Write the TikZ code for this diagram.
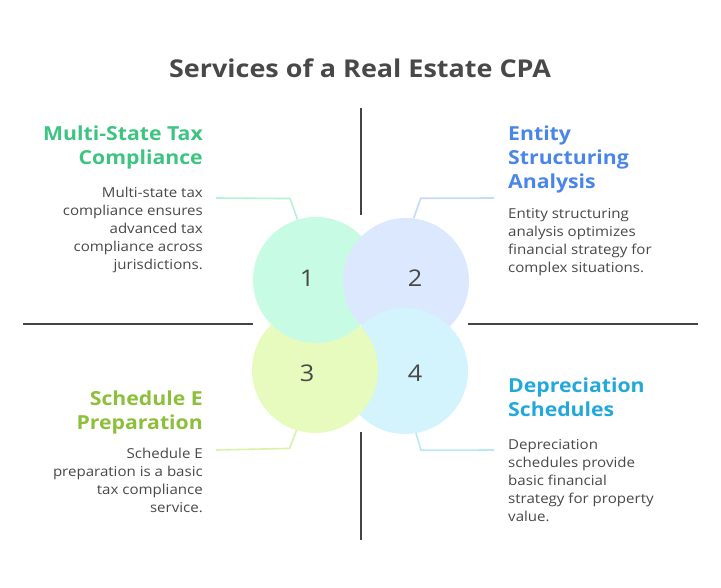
\documentclass[tikz,border=0pt]{standalone}
\usepackage{fontspec}
\setmainfont[FakeStretch=1.1]{Open Sans}
\usepackage{xcolor}
\usetikzlibrary{positioning, calc}

\definecolor{inkgray}{HTML}{484848}
\definecolor{mintfill}{HTML}{C8FBE3}
\definecolor{bluefill}{HTML}{DCE8FD}
\definecolor{limefill}{HTML}{E6FBBD}
\definecolor{cyanfill}{HTML}{D3F3FD}
\definecolor{mintink}{HTML}{3CC480}
\definecolor{blueink}{HTML}{4A86E8}
\definecolor{limeink}{HTML}{8CBF3A}
\definecolor{cyanink}{HTML}{22A8DB}

\begin{document}
\begin{tikzpicture}[
    x=1pt, y=-1pt,
    every node/.style={inner sep=0pt, text=inkgray},
    bubble/.style={circle, minimum size=126pt},
    num/.style={font=\fontsize{23}{28}\selectfont},
    head/.style={font=\fontsize{19.3}{24}\selectfont\bfseries},
    body/.style={font=\fontsize{13.7}{18}\selectfont},
    lead/.style={line width=1.6pt},
    divider/.style={line width=2pt, draw=inkgray!95!black}
]
\useasboundingbox (0,0) rectangle (721,588);

\node[font=\fontsize{24.5}{28}\selectfont\bfseries] (title) at (360,68) {Services of a Real Estate CPA};

% quadrant dividers
\draw[divider] (361,108) -- (361,215);
\draw[divider] (361,432) -- (361,540);
\draw[divider] (23,324) -- (253,324);
\draw[divider] (468,324) -- (698,324);

% overlapping bubbles
\node[bubble, fill=mintfill] (c1) at (316,280) {};
\node[bubble, fill=bluefill] (c2) at (406,281) {};
\node[bubble, fill=cyanfill] (c4) at (405,371) {};
\node[bubble, fill=limefill] (c3) at (315,370) {};
\begin{scope}
  \clip (c3.center) circle[radius=63];
  \clip (0,0) rectangle (360.5,588);
  \fill[mintfill] (c1.center) circle[radius=63];
\end{scope}

\node[num] (n1) at (307,278) {1};
\node[num] (n2) at (415,278) {2};
\node[num] (n3) at (307,373) {3};
\node[num] (n4) at (415,373) {4};

% headings and descriptions
\node[head, text=mintink, align=right, anchor=north east] (h1) at (203,126)
  {Multi-State Tax\\Compliance};
\node[body, align=right, anchor=north east] (b1) at (203,187)
  {Multi-state tax\\compliance ensures\\advanced tax\\compliance across\\jurisdictions.};
\node[head, text=blueink, align=left, anchor=north west] (h2) at (508,126)
  {Entity\\Structuring\\Analysis};
\node[body, align=left, anchor=north west] (b2) at (508,208)
  {Entity structuring\\analysis optimizes\\financial strategy for\\complex situations.};
\node[head, text=limeink, align=right, anchor=north east] (h3) at (203,391)
  {Schedule E\\Preparation};
\node[body, align=right, anchor=north east] (b3) at (203,448)
  {Schedule E\\preparation is a basic\\tax compliance\\service.};
\node[head, text=cyanink, align=left, anchor=north west] (h4) at (508,378)
  {Depreciation\\Schedules};
\node[body, align=left, anchor=north west] (b4) at (508,439)
  {Depreciation\\schedules provide\\basic financial\\strategy for property\\value.};

% leader lines
\coordinate (l1) at (216,198);
\coordinate (l2) at (494,198);
\coordinate (l3) at (216,450);
\coordinate (l4) at (494,450);
\draw[lead, draw=mintfill!85!mintink] (c1.107.5) -- ++(-7.5,-21) -- (l1);
\draw[lead, draw=bluefill!85!blueink] (c2.83) -- ++(7,-20) -- (l2);
\draw[lead, draw=limefill!85!limeink] (c3.253) -- ++(-7,18) -- (l3);
\draw[lead, draw=cyanfill!85!cyanink] (c4.280) -- ++(5,17) -- (l4);
\end{tikzpicture}
\end{document}
